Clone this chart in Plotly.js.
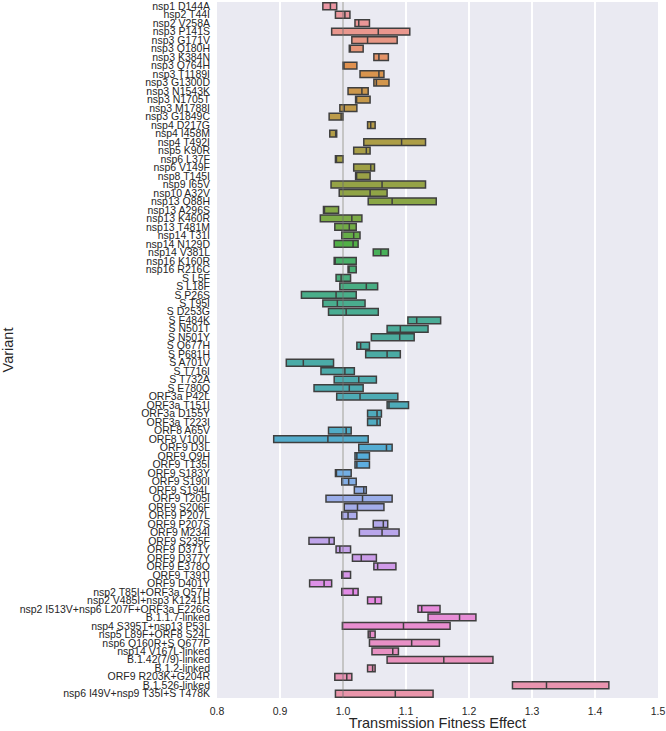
<!DOCTYPE html>
<html><head><meta charset="utf-8">
<script src="https://cdn.plot.ly/plotly-3.0.1.min.js"></script>
<style>html,body{margin:0;padding:0;background:#fff}#chart{width:666px;height:731px}</style>
</head><body><div id="chart"></div>
<script>
const variants = [
"nsp1 D144A","nsp2 T44I","nsp2 V258A","nsp3 P141S","nsp3 G171V","nsp3 Q180H","nsp3 K384N","nsp3 Q764H",
"nsp3 T1189I","nsp3 G1300D","nsp3 N1543K","nsp3 N1705T","nsp3 M1788I","nsp3 G1849C","nsp4 D217G","nsp4 I458M",
"nsp4 T492I","nsp5 K90R","nsp6 L37F","nsp6 V149F","nsp8 T145I","nsp9 I65V","nsp10 A32V","nsp13 Q88H",
"nsp13 A296S","nsp13 K460R","nsp13 T481M","nsp14 T31I","nsp14 N129D","nsp14 V381L","nsp16 K160R","nsp16 R216C",
"S L5F","S L18F","S P26S","S T95I","S D253G","S E484K","S N501T","S N501Y","S Q677H","S P681H","S A701V",
"S T716I","S T732A","S E780Q","ORF3a P42L","ORF3a T151I","ORF3a D155Y","ORF3a T223I","ORF8 A65V","ORF8 V100L",
"ORF9 D3L","ORF9 Q9H","ORF9 T135I","ORF9 S183Y","ORF9 S190I","ORF9 S194L","ORF9 T205I","ORF9 S206F",
"ORF9 P207L","ORF9 P207S","ORF9 M234I","ORF9 S235F","ORF9 D371Y","ORF9 D377Y","ORF9 E378Q","ORF9 T391I",
"ORF9 D401Y","nsp2 T85I+ORF3a Q57H","nsp2 V485I+nsp3 K1241R","nsp2 I513V+nsp6 L207F+ORF3a E226G",
"B.1.1.7-linked","nsp4 S395T+nsp13 P53L","nsp5 L89F+ORF8 S24L","nsp6 Q160R+S Q677P","nsp14 V167L-linked",
"B.1.42(7/9)-linked","B.1.2-linked","ORF9 R203K+G204R","B.1.526-linked","nsp6 I49V+nsp9 T35I+S T478K"
];
const q1Vals = [
0.968,0.988,1.019,0.982,1.014,1.010,1.049,1.000,1.027,1.049,1.008,1.020,0.995,0.978,1.039,0.979,
1.033,1.017,0.988,1.017,1.020,0.981,0.994,1.040,0.969,0.964,0.987,0.998,0.986,1.048,0.986,1.008,
0.989,0.995,0.934,0.968,0.977,1.103,1.070,1.045,1.022,1.036,0.910,0.965,0.986,0.954,0.990,1.070,
1.039,1.039,0.977,0.890,1.025,1.019,1.019,0.988,0.998,1.018,0.973,1.002,0.998,1.048,1.026,0.946,
0.989,1.015,1.049,0.998,0.947,0.998,1.039,1.119,1.135,0.999,1.040,1.042,1.046,1.070,1.039,0.987,
1.269,0.988
];
const medianVals = [
0.980,1.003,1.025,1.056,1.039,1.011,1.057,1.000,1.057,1.053,1.030,1.021,1.002,0.997,1.044,0.989,
1.093,1.037,0.989,1.044,1.021,1.062,1.043,1.078,0.970,1.014,1.010,1.017,1.016,1.060,0.987,1.009,
0.997,1.037,0.989,0.991,1.005,1.117,1.091,1.090,1.028,1.070,0.937,1.003,1.025,1.010,1.027,1.073,
1.054,1.054,1.005,0.976,1.069,1.022,1.022,0.989,1.009,1.033,1.031,1.023,1.008,1.064,1.062,0.978,
0.995,1.029,1.055,0.999,0.970,1.016,1.051,1.125,1.185,1.096,1.043,1.109,1.079,1.160,1.047,1.006,
1.323,1.083
];
const q3Vals = [
0.990,1.011,1.042,1.106,1.086,1.032,1.072,1.022,1.065,1.073,1.040,1.043,1.022,1.000,1.051,0.990,
1.131,1.043,1.000,1.050,1.043,1.131,1.070,1.148,0.993,1.030,1.021,1.027,1.024,1.072,1.021,1.021,
1.012,1.055,1.021,1.035,1.056,1.155,1.135,1.113,1.042,1.091,0.985,1.018,1.053,1.032,1.087,1.104,
1.061,1.059,1.013,1.040,1.078,1.042,1.042,1.013,1.021,1.037,1.078,1.065,1.022,1.071,1.089,0.986,
1.012,1.053,1.084,1.012,0.982,1.024,1.061,1.154,1.211,1.170,1.051,1.153,1.088,1.238,1.051,1.014,
1.422,1.143
];
const xTickVals = [0.8,0.9,1.0,1.1,1.2,1.3,1.4,1.5];
const xTickText = ["0.8","0.9","1.0","1.1","1.2","1.3","1.4","1.5"];

// --- seaborn husl palette (l=.7) desaturated to .75 ---
const M = [[3.2406,-1.5372,-0.4986],[-0.9689,1.8758,0.0415],[0.0557,-0.2040,1.0570]];
const refU=0.19784, refV=0.46834, kappa=903.2963, eps=0.0088564;
function maxChroma(L,H){
  const hr=H/360*2*Math.PI, sinH=Math.sin(hr), cosH=Math.cos(hr);
  const sub1=Math.pow(L+16,3)/1560896, sub2= sub1>eps?sub1:L/kappa;
  let res=Infinity;
  for(const [m1,m2,m3] of M){
    const top=(0.99915*m1+1.05122*m2+1.14460*m3)*sub2;
    const rb=0.86330*m3-0.17266*m2, lb=0.12949*m3-0.38848*m1;
    const bottom=(rb*sinH+lb*cosH)*sub2;
    for(const t of [0,1]){
      const C=L*(top-1.05122*t)/(bottom+0.17266*sinH*t);
      if(C>0&&C<res)res=C;
    }
  }
  return res;
}
function huslToRgb(H,S,L){
  const C=maxChroma(L,H)/100*S;
  const hr=H/360*2*Math.PI, U=Math.cos(hr)*C, V=Math.sin(hr)*C;
  const Y = L>8 ? Math.pow((L+16)/116,3) : L/kappa;
  const vu=U/(13*L)+refU, vv=V/(13*L)+refV;
  const X=0-(9*Y*vu)/((vu-4)*vv-vu*vv);
  const Z=(9*Y-15*vv*Y-vv*X)/(3*vv);
  return M.map(r=>{
    const c=r[0]*X+r[1]*Y+r[2]*Z;
    const v= c<=0.0031308?12.92*c:1.055*Math.pow(c,1/2.4)-0.055;
    return Math.min(1,Math.max(0,v));
  });
}
function rgbToHls(r,g,b){
  const mx=Math.max(r,g,b), mn=Math.min(r,g,b), l=(mx+mn)/2;
  if(mx===mn) return [0,l,0];
  const d=mx-mn, s= l<=0.5? d/(mx+mn) : d/(2-mx-mn);
  let h;
  if(r===mx) h=(g-b)/d; else if(g===mx) h=2+(b-r)/d; else h=4+(r-g)/d;
  h=((h/6)%1+1)%1;
  return [h,l,s];
}
function hlsToRgb(h,l,s){
  if(s===0) return [l,l,l];
  const m2= l<=0.5? l*(1+s) : l+s-l*s, m1=2*l-m2;
  const v=(hh)=>{hh=((hh%1)+1)%1; if(hh<1/6)return m1+(m2-m1)*hh*6; if(hh<0.5)return m2; if(hh<2/3)return m1+(m2-m1)*(2/3-hh)*6; return m1;};
  return [v(h+1/3),v(h),v(h-1/3)];
}
const n=variants.length;
const colors=variants.map((_,i)=>{
  const h=((i/n+0.01)%1)*359;
  const rgb=huslToRgb(h,0.9*99,0.7*99);
  const [hh,l,s]=rgbToHls(...rgb);
  const out=hlsToRgb(hh,l,s*0.75);
  return 'rgb('+out.map(c=>Math.round(c*255)).join(',')+')';
});

const traces=variants.map((v,i)=>({
  type:'box', orientation:'h',
  y:[v], q1:[q1Vals[i]], median:[medianVals[i]], q3:[q3Vals[i]],
  lowerfence:[q1Vals[i]], upperfence:[q3Vals[i]],
  fillcolor:colors[i], line:{color:'#3f3f3f',width:1.5},
  width:0.8, whiskerwidth:0, boxpoints:false, showlegend:false,
  hoverinfo:'x+y'
}));

const font={family:'"Liberation Sans", Arial, sans-serif', color:'#262626'};
const layout={
  width:666,height:731,
  margin:{l:217,r:8,t:2,b:33},
  paper_bgcolor:'#ffffff', plot_bgcolor:'#EAEAF2',
  font:Object.assign({size:10.5},font),
  boxmode:'overlay', showlegend:false,
  xaxis:{range:[0.8,1.5],tickmode:'array',tickvals:xTickVals,ticktext:xTickText,showgrid:true,gridcolor:'#ffffff',gridwidth:1.5,
    zeroline:false,showline:false,ticks:'',tickfont:{size:10.5},ticklabelstandoff:5,automargin:false,
    title:{text:'Transmission Fitness Effect',font:{size:14.5},standoff:4}},
  yaxis:{type:'category',categoryorder:'array',categoryarray:variants,range:[n-0.5,-0.5],
    tickmode:'array',tickvals:variants,ticktext:variants,automargin:false,
    showgrid:false,zeroline:false,showline:false,ticks:'',tickfont:{size:10.5},ticklabelstandoff:6,
    title:{text:'Variant',font:{size:14.5},standoff:2}},
  shapes:[{type:'line',xref:'x',yref:'paper',x0:1,x1:1,y0:0,y1:1,layer:'above',line:{color:'rgba(110,110,110,0.8)',width:1}}]
};
Plotly.newPlot('chart',traces,layout,{displayModeBar:false,staticPlot:true});
</script></body></html>
